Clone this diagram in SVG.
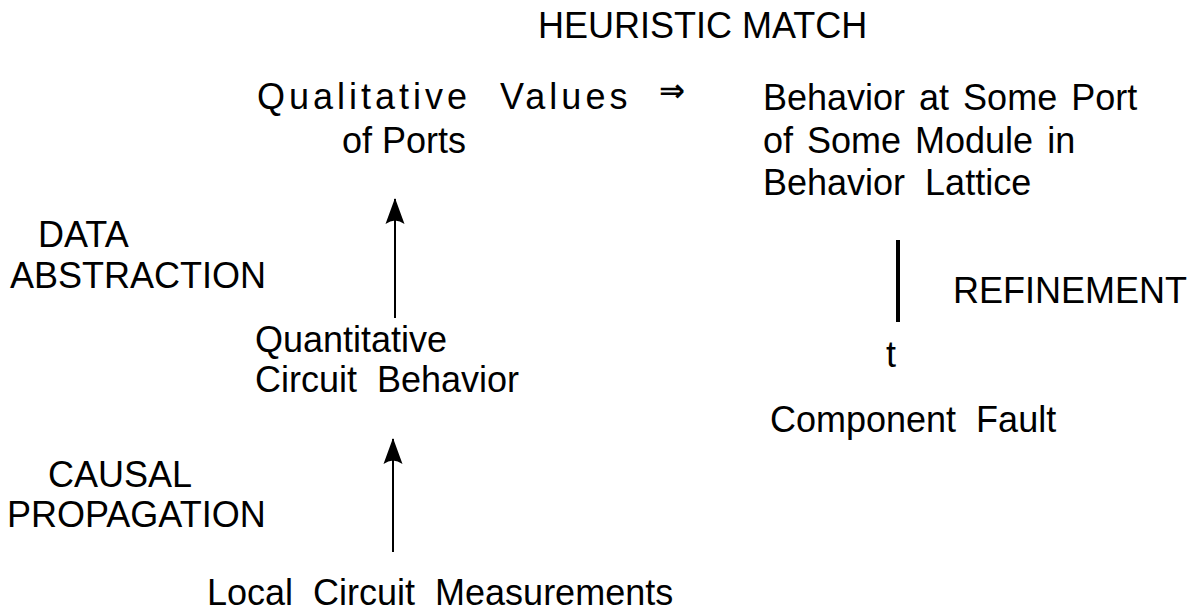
<svg xmlns="http://www.w3.org/2000/svg" width="1196" height="612" viewBox="0 0 1196 612">
<style>
text{font-family:"Liberation Sans",Arial,sans-serif;font-size:36px;fill:#000;white-space:pre}
.sp{letter-spacing:4px}
.ws{word-spacing:4px}
.ln{stroke:#000;stroke-width:2;fill:none}
</style>
<defs>
<marker id="ah" markerUnits="userSpaceOnUse" markerWidth="26" markerHeight="20" refX="25" refY="10" orient="auto" viewBox="0 0 26 20">
<path d="M26 10 L0 0.5 Q7 10 0 19.5 Z" fill="#000"/>
</marker>
</defs>
<rect width="1196" height="612" fill="#fff"/>
<g id="heuristic-match"><text x="538" y="38">HEURISTIC MATCH</text></g>
<g id="qualitative-values">
<text class="sp" y="109"><tspan x="257">Qualitative</tspan><tspan x="500">Values</tspan></text>
<text x="659" y="101" style="font-family:'DejaVu Sans',sans-serif;font-size:31px;font-weight:bold">⇒</text>
<text x="342" y="153">of Ports</text>
</g>
<g id="behavior-port">
<text class="ws" x="763" y="110">Behavior at Some Port</text>
<text class="ws" x="763" y="153">of Some Module in</text>
<text x="763" y="195" xml:space="preserve">Behavior  Lattice</text>
</g>
<g id="data-abstraction">
<text x="38" y="247">DATA</text>
<text x="10" y="288">ABSTRACTION</text>
</g>
<g id="refinement"><text x="953" y="303">REFINEMENT</text></g>
<g id="quantitative">
<text x="255" y="352">Quantitative</text>
<text x="255" y="392" xml:space="preserve">Circuit  Behavior</text>
</g>
<g id="component-fault">
<text x="886" y="367">t</text>
<text x="770" y="432" xml:space="preserve">Component  Fault</text>
</g>
<g id="causal-propagation">
<text x="48" y="487">CAUSAL</text>
<text x="7" y="527">PROPAGATION</text>
</g>
<g id="local">
<text x="207" y="605" xml:space="preserve">Local  Circuit  Measurements</text>
</g>
<g id="connectors">
<line class="ln" x1="395" y1="318" x2="395" y2="199" marker-end="url(#ah)"/>
<line class="ln" x1="393" y1="552" x2="393" y2="439" marker-end="url(#ah)"/>
<line x1="898" y1="240" x2="898" y2="322" stroke="#000" stroke-width="4"/>
</g>
</svg>
